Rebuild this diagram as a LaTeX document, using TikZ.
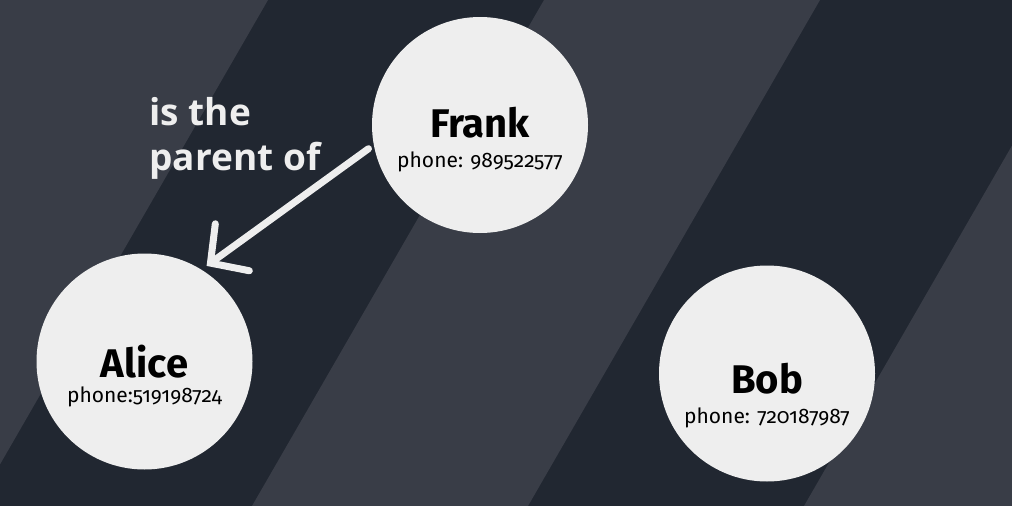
\documentclass[tikz,border=0pt]{standalone}
\usepackage{fontspec}
\setmainfont{Fira Sans}
\newfontfamily\relfont{Open Sans}
\usetikzlibrary{arrows.meta}
\definecolor{StripeLight}{HTML}{393D47}
\definecolor{StripeDark}{HTML}{212731}
\definecolor{NodeFill}{HTML}{EEEEEE}
\definecolor{NiceBlack}{HTML}{000000}

\begin{document}
\begin{tikzpicture}[x=1pt, y=-1pt,
    person/.style={circle, fill=NodeFill, minimum size=216pt, inner sep=0pt, outer sep=6pt},
    nametext/.style={anchor=base, text=NiceBlack, font={\fontsize{40}{44}\selectfont\bfseries}},
    phonetext/.style={anchor=base, text=NiceBlack, font={\fontsize{21}{25}\selectfont\addfontfeatures{Numbers=OldStyle}}},
    relation/.style={line width=7pt, NodeFill, line cap=round,
      -{Straight Barb[length=27pt, width=58pt, line cap=round]}}]
    \useasboundingbox (0,0) rectangle (1012,506);
    % Background stripes
    \fill[StripeDark] (0,0) rectangle (1012,506);
    \begin{scope}
      \clip (0,0) rectangle (1012,506);
      \foreach \a in {-8,544,1096}
        \fill[StripeLight] (\a,0) -- ++(276,0) -- ++(-292,506) -- ++(-276,0) -- cycle;
    \end{scope}
    % People
    \node[person] (frank) at (480,125) {};
    \node[person] (alice) at (144.5,361.5) {};
    \node[person] (bob) at (767,373.5) {};
    \node[nametext] (franklabel) at (480,137) {Frank};
    \node[phonetext] (frankphone) at (480,167) {phone: 989522577};
    \node[nametext] (alicelabel) at (144.5,377) {Alice};
    \node[phonetext] (alicephone) at (144.5,402) {phone:519198724};
    \node[nametext] (boblabel) at (767,393) {Bob};
    \node[phonetext] (bobphone) at (767,423) {phone: 720187987};
    % Relation
    \draw[relation] (frank.192.5) -- (alice.57.6);
    \node[anchor=base west, align=left, text=NodeFill,
      font={\relfont\fontsize{37}{45}\selectfont\bfseries}] (parentof) at (146,170)
      {is the\\parent of};
\end{tikzpicture}
\end{document}
